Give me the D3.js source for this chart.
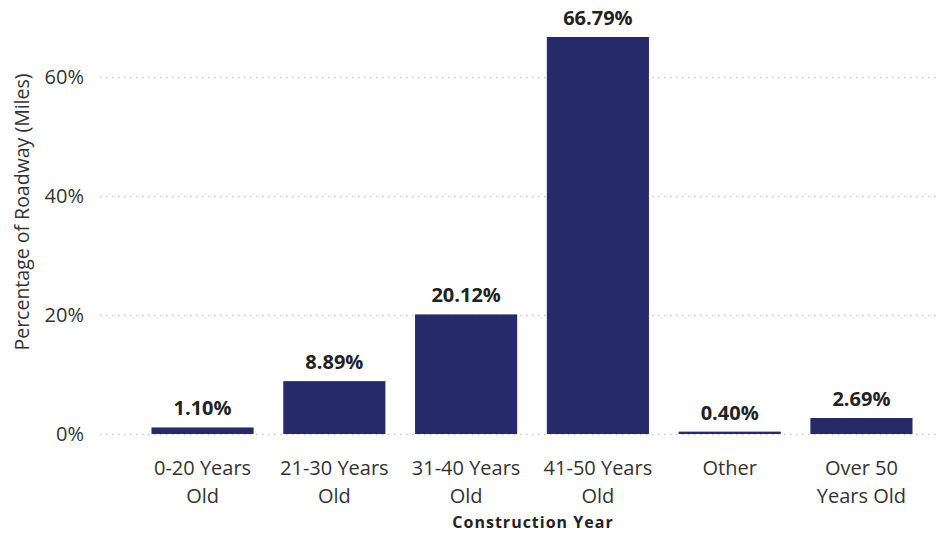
<!DOCTYPE html>
<html>
<head>
<meta charset="utf-8">
<script src="https://cdn.jsdelivr.net/npm/d3@7"></script>
<style>
  body { margin: 0; background: #fff; }
  svg { font-family: "Open Sans", "Noto Sans", sans-serif; }
</style>
</head>
<body>
<div id="viz"></div>
<script>
// values
var categories = [["0-20 Years", "Old"], ["21-30 Years", "Old"], ["31-40 Years", "Old"],
                  ["41-50 Years", "Old"], ["Other"], ["Over 50", "Years Old"]];
var values = [1.10, 8.89, 20.12, 66.79, 0.40, 2.69];
var yTicks = [0, 20, 40, 60];

var width = 938, height = 535;
var margin = {left: 137, right: 11, top: 37, bottom: 101};

var svg = d3.select("#viz").append("svg")
  .attr("width", width)
  .attr("height", height);

var x = d3.scaleBand()
  .domain(d3.range(values.length))
  .range([margin.left, width - margin.right])
  .paddingInner(0.225)
  .paddingOuter(0.11);

var y = d3.scaleLinear()
  .domain([0, 66.79])
  .range([height - margin.bottom, margin.top]);

// dotted gridlines
svg.append("g")
  .selectAll("line")
  .data(yTicks)
  .enter().append("line")
  .attr("x1", 100)
  .attr("x2", 936)
  .attr("y1", d => Math.round(y(d)) + 0.5)
  .attr("y2", d => Math.round(y(d)) + 0.5)
  .attr("stroke", "#c8c8c8")
  .attr("stroke-width", 1.5)
  .attr("stroke-dasharray", "1.5,4.5");

// y tick labels
svg.append("g")
  .selectAll("text")
  .data(yTicks)
  .enter().append("text")
  .attr("x", 84)
  .attr("y", d => y(d))
  .attr("dy", "0.35em")
  .attr("text-anchor", "end")
  .attr("fill", "#333")
  .style("font-size", "20px")
  .text(d => d + "%");

// bars
svg.append("g")
  .selectAll("rect")
  .data(values)
  .enter().append("rect")
  .attr("x", (d, i) => x(i))
  .attr("width", x.bandwidth())
  .attr("y", d => y(d))
  .attr("height", d => y(0) - y(d))
  .attr("fill", "#262a6b");

// value labels
svg.append("g")
  .selectAll("text")
  .data(values)
  .enter().append("text")
  .attr("x", (d, i) => x(i) + x.bandwidth() / 2)
  .attr("y", d => y(d) - 12)
  .attr("text-anchor", "middle")
  .attr("fill", "#222")
  .style("font-size", "20px")
  .style("font-weight", 700)
  .text(d => d.toFixed(2) + "%");

// x tick labels
var xl = svg.append("g")
  .selectAll("text")
  .data(categories)
  .enter().append("text")
  .attr("text-anchor", "middle")
  .attr("fill", "#333")
  .style("font-size", "20px");

xl.each(function(lines, i) {
  var t = d3.select(this);
  lines.forEach(function(s, j) {
    t.append("tspan")
      .attr("x", x(i) + x.bandwidth() / 2)
      .attr("y", 475 + j * 28)
      .text(s);
  });
});

// axis titles
svg.append("text")
  .attr("x", 533)
  .attr("y", 528)
  .attr("text-anchor", "middle")
  .attr("fill", "#222")
  .style("font-size", "16px")
  .style("font-weight", 700)
  .style("letter-spacing", "1px")
  .text("Construction Year");

svg.append("text")
  .attr("transform", "translate(29," + 212 + ") rotate(-90)")
  .attr("text-anchor", "middle")
  .attr("fill", "#333")
  .style("font-size", "19.5px")
  .text("Percentage of Roadway (Miles)");
</script>
</body>
</html>
